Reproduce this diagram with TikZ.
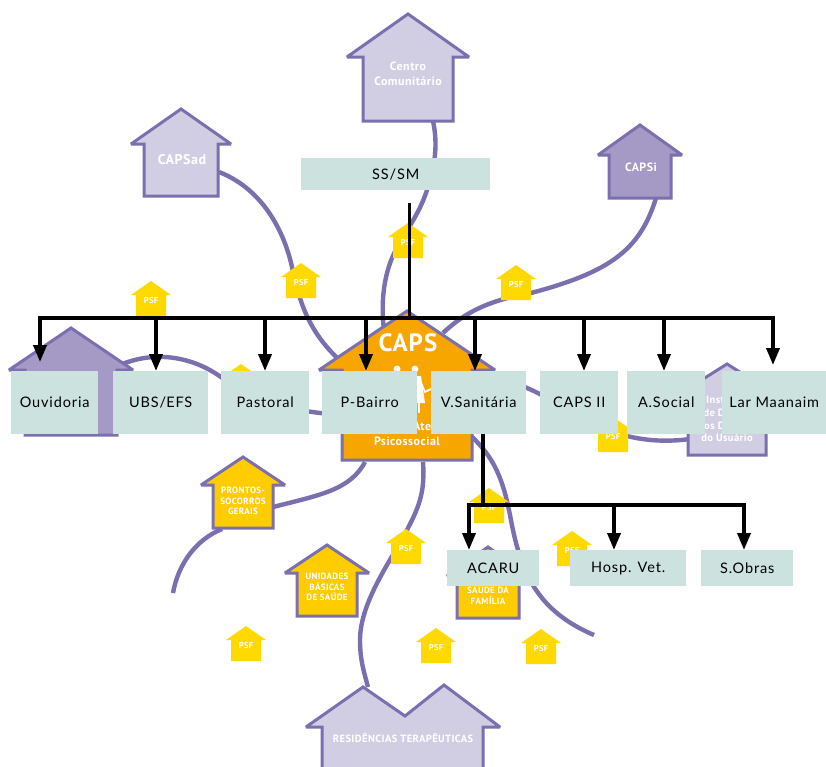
\documentclass[tikz,border=0pt]{standalone}
\usepackage{fontspec}
\setsansfont{Lato}[LetterSpace=6]
\newfontfamily\casafont{PT Sans}[LetterSpace=4]
\usetikzlibrary{arrows.meta}
\definecolor{roxo}{HTML}{7B6FAF}
\definecolor{lilas}{HTML}{D1CEE4}
\definecolor{lilasescuro}{HTML}{A599C6}
\definecolor{laranja}{HTML}{F7A600}
\definecolor{ouro}{HTML}{FFCC00}
\definecolor{amarelo}{HTML}{FFD900}
\definecolor{caixa}{HTML}{CCE2DF}
\tikzset{
    curva/.style = {draw = roxo, line width = 4.4pt},
    casa/.style = {draw = roxo, line width = 3pt, line join = miter, miter limit = 2},
    rotulo/.style = {text = white, font = \casafont\bfseries\fontsize{12}{15}\selectfont, align = center, inner sep = 0pt},
    rotulomenor/.style = {rotulo, font = \casafont\bfseries\fontsize{9}{10.5}\selectfont},
    rotulopsf/.style = {text = white, font = \casafont\bfseries\fontsize{8.5}{9}\selectfont, inner sep = 0pt},
    orgao/.style = {fill = caixa, anchor = north west, inner sep = 0pt, align = center,
        font = \sffamily\fontsize{14.5}{16}\selectfont},
    barra/.style = {draw = black, line width = 4.6pt},
    seta/.style = {draw = black, line width = 3.6pt, -{Triangle[width = 13pt, length = 17pt]}}
}
% #1 style, #2 centre, #3 top, #4 eaves, #5 bottom, #6 half roof, #7 half body
\newcommand{\casinha}[7]{
    \draw[#1] (#2,#3) -- ({#2+#6},#4) -- ({#2+#7},#4) -- ({#2+#7},#5)
        -- ({#2-#7},#5) -- ({#2-#7},#4) -- ({#2-#6},#4) -- cycle;
}
\begin{document}
\begin{tikzpicture}[x = 1pt, y = -1pt]
    \useasboundingbox (0,0) rectangle (826,766);

    % ligacoes
    \draw[curva] (433,121) .. controls (437,140) and (437,160) .. (427,190)
        .. controls (418,218) and (402,235) .. (392,258)
        .. controls (383,280) and (381,305) .. (384,330);
    \draw[curva] (219,172) .. controls (265,190) and (285,235) .. (292,267)
        .. controls (300,305) and (310,335) .. (345,365);
    \draw[curva] (656,198) .. controls (640,250) and (610,272) .. (531,293)
        .. controls (490,300) and (465,312) .. (443,333);
    \draw[curva] (120,365) .. controls (150,352) and (190,353) .. (225,380)
        .. controls (250,398) and (285,412) .. (345,415);
    \draw[curva] (470,372) .. controls (500,378) and (525,385) .. (545,397)
        .. controls (590,425) and (630,447) .. (690,439);
    \draw[curva] (365,462) .. controls (350,490) and (320,495) .. (273,507);
    \draw[curva] (222,529) .. controls (195,540) and (178,565) .. (173,593);
    \draw[curva] (423,462) .. controls (425,490) and (420,505) .. (408,528)
        .. controls (395,555) and (360,600) .. (360,640)
        .. controls (360,660) and (364,672) .. (368,687);
    \draw[curva] (470,435) .. controls (495,458) and (503,480) .. (510,515)
        .. controls (520,570) and (535,610) .. (594,635);

    % casas pequenas
    \foreach \x/\y [count = \i] in {151/281, 301/263, 408/223, 516/265, 613/417, 489/488,
            572/531, 436/628, 541/629, 406/529, 246/626, 241/364} {
        \fill[amarelo] (\x,\y) -- (\x+20,\y+14) -- (\x+15,\y+14) -- (\x+15,\y+35)
            -- (\x-15,\y+35) -- (\x-15,\y+14) -- (\x-20,\y+14) -- cycle;
        \node[rotulopsf] (psf\i) at (\x,\y+20) {PSF};
    }

    % casas
    \casinha{casa, fill = lilas}{408}{14}{57}{121}{61}{45}
    \node[rotulo] (centro) at (408,74) {Centro\\Comunitário};
    \casinha{casa, fill = lilas}{181}{109}{144}{196}{50}{37}
    \node[rotulo, font = \casafont\bfseries\fontsize{14}{16}\selectfont] (capsad) at (182,160) {CAPSad};
    \casinha{casa, fill = lilasescuro}{640}{125}{155}{198}{42}{31}
    \node[rotulo] (capsi) at (641,167) {CAPSi};
    \casinha{casa, fill = lilasescuro}{71}{328}{370}{435}{62}{46}
    \casinha{casa, fill = lilas}{727}{364}{396}{455}{51}{39}
    \node[rotulo, font = \casafont\bfseries\fontsize{10.5}{12.7}\selectfont] (instituto) at (727,419) {Instituto\\de Defesa\\dos Direitos\\do Usuário};
    \casinha{casa, fill = ouro}{243}{457}{485}{528}{42}{30}
    \node[rotulomenor] (prontos) at (243,501) {PRONTOS-\\SOCORROS\\GERAIS};
    \casinha{casa, fill = ouro}{327}{545}{573}{616}{42}{30}
    \node[rotulomenor] (unidades) at (327,587) {UNIDADES\\BÁSICAS\\DE SAÚDE};
    \casinha{casa, fill = ouro}{488}{547}{576}{618}{41}{31}
    \node[rotulomenor] (familia) at (488,595) {SAÚDE DA\\FAMÍLIA};
    \casinha{casa, fill = laranja}{407}{311}{370}{460}{88}{65}
    \node[rotulo, font = \casafont\bfseries\fontsize{25}{27}\selectfont] (caps) at (408,343) {CAPS};
    \node[rotulo, font = \casafont\bfseries\fontsize{12}{15}\selectfont] (atencao) at (407,434) {Centro de Atenção\\Psicossocial};
    \draw[casa, fill = lilas] (322,768) -- (322,727) -- (306,727) -- (363,687) -- (405,716)
        -- (444,685) -- (500,727) -- (483,727) -- (483,768);
    \node[rotulo, font = \casafont\bfseries\fontsize{10.5}{12}\selectfont] (residencias) at (403,738) {RESIDÊNCIAS TERAPÊUTICAS};

    % figuras
    \fill[white] (397,369) circle (3.5) (415,369) circle (3.5);
    \fill[white] (417,376) -- (421,376) -- (425,403) -- (417,403) -- cycle;
    \draw[white, line width = 1.6pt] (420,380) -- (425,392) -- (431,389);
    \draw[white, line width = 1.6pt] (419,403) -- (419,413);

    % orgaos
    \node[orgao, minimum width = 189pt, minimum height = 32pt] (sssm) at (301,158) {SS/SM};
    \foreach \nome/\x/\w/\texto in {ouvidoria/11/87/Ouvidoria, ubs/113/95/UBS\slash EFS,
            pastoral/221/88/Pastoral, bairro/322/95/P-Bairro, sanitaria/431/95/V.Sanitária,
            capsii/540/78/CAPS II, social/627/78/A.Social, lar/722/104/Lar Maanaim} {
        \node[orgao, minimum width = \w pt, minimum height = 62.5pt] (\nome) at (\x,371) {\raisebox{-3pt}{\texto}};
    }
    \foreach \nome/\x/\w/\texto in {acaru/447/92/ACARU, hosp/570/116/Hosp. Vet., obras/701/92/S.Obras} {
        \node[orgao, minimum width = \w pt, minimum height = 36pt] (\nome) at (\x,550) {\texto};
    }

    % primeira barra
    \coordinate (saida) at (409,203);
    \coordinate (barraesq) at (40,318);
    \coordinate (barradir) at (773,318);
    \draw[draw = black, line width = 3pt] (saida) -- (saida |- barraesq);
    \draw[barra] ([xshift = -2.3pt]barraesq) -- ([xshift = 2.3pt]barradir);
    \foreach \nome/\x in {ubs/156, pastoral/265, bairro/366, sanitaria/475, capsii/584, social/664} {
        \coordinate (b\nome) at (\x,318);
        \draw[seta] (b\nome) -- (b\nome |- \nome.north);
    }
    \draw[seta] (barradir) -- ([yshift = 6pt]barradir |- lar.north);
    \draw[seta] (barraesq) -- ([yshift = 9pt]barraesq |- ouvidoria.north);

    % segunda barra
    \coordinate (barrab) at (483,505);
    \coordinate (barrabesq) at (469,505);
    \coordinate (barrabhosp) at (614,505);
    \coordinate (barrabdir) at (744,505);
    \draw[draw = black, line width = 3.6pt] (barrab |- sanitaria.south) -- (barrab);
    \draw[barra] ([xshift = -2.3pt]barrabesq) -- ([xshift = 2.3pt]barrabdir);
    \draw[seta] (barrabesq) -- (barrabesq |- acaru.north);
    \draw[seta] (barrabhosp) -- (barrabhosp |- hosp.north);
    \draw[seta] (barrabdir) -- (barrabdir |- obras.north);
\end{tikzpicture}
\end{document}
